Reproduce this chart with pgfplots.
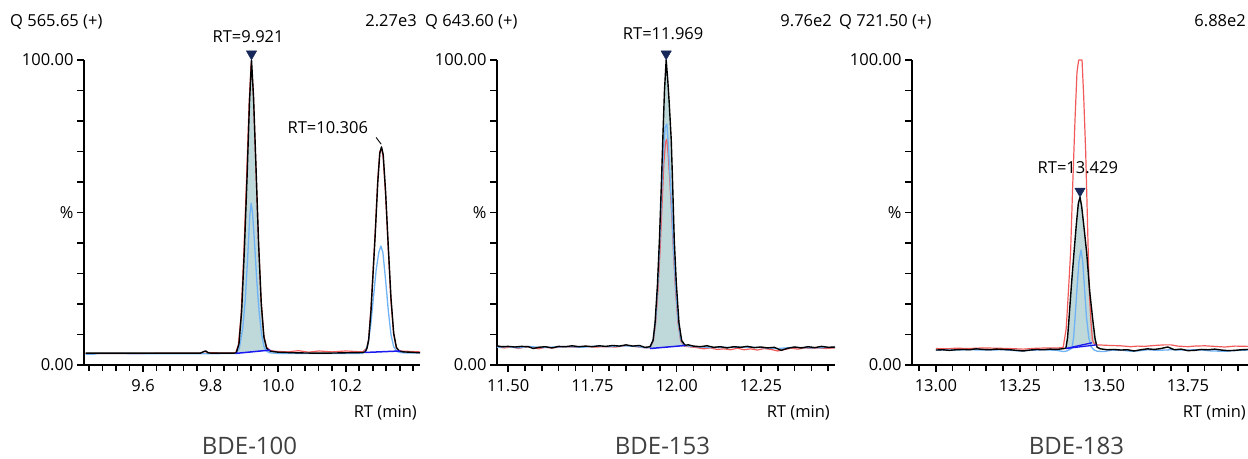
\documentclass[border=0pt]{standalone}
\usepackage{fontspec}
\setmainfont{Open Sans}
\usepackage{pgfplots}
\pgfplotsset{compat=1.18}
\definecolor{fillc}{HTML}{BFD8D9}
\definecolor{redc}{HTML}{F25A5A}
\definecolor{ltblue}{HTML}{6FB2F5}
\definecolor{basec}{HTML}{1A1AF0}
\definecolor{navy}{HTML}{16285A}
\definecolor{titlec}{HTML}{404040}
\newcommand{\fs}{\fontsize{16.5}{19}\selectfont}
\pgfplotsset{chrom/.style={
  scale only axis, height=305pt, clip=false, anchor=south west,
  axis lines=left, axis line style={line width=2.4pt, -},
  ymin=0, ymax=100, ytick={0,10,...,100},
  yticklabels={0.00,,,,,\%,,,,,100.00},
  tick align=outside, major tick length=7pt, minor tick length=6pt,
  tick style={black, line width=1.6pt},
  font=\fs, tick label style={font=\fs},
  xticklabel style={yshift=-4pt},
  /pgf/number format/assume math mode=true,
  every axis plot/.append style={line join=round},
}}
\begin{document}
\begin{tikzpicture}
\path[use as bounding box] (0,0) rectangle (1248pt,458pt);

% ---------------- BDE-100
\begin{axis}[chrom, at={(84pt,93pt)}, width=336pt,
  xmin=9.425, xmax=10.42,
  xtick={9.6,9.8,10.0,10.2}, xticklabels={9.6,9.8,10.0,10.2},
  minor xtick={9.44,9.48,...,10.41}]
\addplot[fill=fillc, draw=none] coordinates {
 (9.876,4.0)(9.884,7)(9.892,18)(9.900,38)(9.908,62)(9.915,86)(9.921,100)(9.927,88)
 (9.934,66)(9.942,40)(9.950,20)(9.958,9)(9.966,5.5)(9.975,4.6)(9.977,4.9)};
\addplot[redc, line width=1.2pt] coordinates {
 (9.430,3.8)(9.60,3.8)(9.77,3.9)(9.782,4.5)(9.79,4.1)(9.84,3.9)(9.874,4.0)(9.882,6.5)
 (9.890,16)(9.898,36)(9.906,60)(9.914,86)(9.920,99)(9.926,90)(9.933,68)(9.941,42)
 (9.949,22)(9.957,10)(9.965,6)(9.975,4.8)(9.99,4.5)(10.03,4.3)(10.06,4.7)(10.09,4.2)
 (10.12,4.6)(10.16,4.3)(10.20,4.6)(10.25,4.3)(10.262,5.5)(10.268,8.5)(10.275,19)
 (10.281,31)(10.287,43)(10.295,61)(10.301,70)(10.306,71)(10.311,68)(10.318,56)
 (10.326,38)(10.334,21)(10.342,10)(10.350,5.6)(10.36,4.6)(10.38,4.5)(10.42,4.3)};
\addplot[ltblue, line width=1.3pt] coordinates {
 (9.43,3.5)(9.45,3.5)(9.47,3.8)(9.60,3.7)(9.80,3.7)(9.875,3.8)(9.885,5.5)(9.895,12)
 (9.903,22)(9.910,36)(9.916,49)(9.920,53)(9.924,50)(9.930,40)(9.937,27)(9.944,17)
 (9.951,10)(9.958,6)(9.966,4.5)(9.975,4.0)(10.0,3.8)(10.25,3.8)(10.258,4.5)(10.266,7)
 (10.274,13)(10.282,22)(10.290,31)(10.298,37)(10.304,39)(10.310,37)(10.318,28)
 (10.326,18)(10.334,10)(10.342,6)(10.352,4.4)(10.365,4.0)(10.42,3.9)};
\addplot[black, line width=1.4pt] coordinates {
 (9.430,3.9)(9.50,3.9)(9.60,3.9)(9.70,3.9)(9.77,3.9)(9.780,4.4)(9.786,4.6)(9.792,4.0)
 (9.80,3.9)(9.84,3.9)(9.870,3.9)(9.876,4.0)(9.884,7)(9.892,18)(9.900,38)(9.908,62)
 (9.915,86)(9.921,100)(9.927,88)(9.934,66)(9.942,40)(9.950,20)(9.958,9)(9.966,5.5)
 (9.975,4.6)(9.985,4.4)(10.00,4.2)(10.05,4.0)(10.10,3.9)(10.15,3.9)(10.20,4.0)
 (10.25,4.1)(10.258,4.3)(10.263,5.5)(10.268,8.2)(10.275,18)(10.281,30)(10.287,42)
 (10.295,60)(10.301,69.5)(10.306,71.5)(10.311,69)(10.318,57)(10.326,39)(10.334,22)
 (10.342,10.5)(10.350,5.8)(10.358,4.6)(10.37,4.3)(10.39,4.2)(10.42,4.0)};
\addplot[basec, line width=1.5pt] coordinates {(9.874,3.8)(9.977,4.9)};
\addplot[basec, line width=1.5pt] coordinates {(10.256,4.1)(10.362,4.6)};
\addplot[only marks, mark=triangle*, mark size=6pt,
  mark options={rotate=180, fill=navy, draw=navy}] coordinates {(9.921,102)};
\node[anchor=base] at (axis cs:9.911,105.6) {RT=9.921};
\node[anchor=base] at (axis cs:10.147,76) {RT=10.306};
\draw[black, line width=0.9pt] (axis cs:10.290,74.6) -- (axis cs:10.305,72.4);
\end{axis}

% ---------------- BDE-153
\begin{axis}[chrom, at={(497pt,93pt)}, width=338pt,
  xmin=11.467, xmax=12.470,
  xtick={11.5,11.75,12.0,12.25}, xticklabels={11.50,11.75,12.00,12.25},
  minor xtick={11.50,11.55,...,12.46}]
\addplot[fill=fillc, draw=none] coordinates {
 (11.921,5.4)(11.921,6.0)(11.930,8)(11.936,13.8)(11.943,26)(11.949,41)(11.955,60)
 (11.959,74)(11.964,90)(11.969,100)(11.974,93)(11.978,86)(11.984,74)(11.988,60)
 (11.993,41)(11.999,27)(12.007,13.8)(12.015,8)(12.025,6.5)(12.026,6.4)};
\addplot[redc, line width=1.2pt] coordinates {
 (11.467,5.9)(11.49,5.6)(11.51,6.0)(11.53,5.4)(11.55,5.9)(11.57,6.0)(11.59,5.3)
 (11.61,5.8)(11.63,5.6)(11.65,5.8)(11.67,6.0)(11.70,5.8)(11.73,6.1)(11.76,5.9)
 (11.79,6.0)(11.82,5.9)(11.85,6.4)(11.88,6.0)(11.91,5.6)(11.922,5.7)(11.931,8)
 (11.938,14)(11.945,25)(11.951,38)(11.957,53)(11.962,66)(11.967,73)(11.971,74)
 (11.975,69)(11.980,60)(11.986,48)(11.991,36)(11.997,24)(12.004,14)(12.012,8)
 (12.022,6.2)(12.035,6.0)(12.06,5.7)(12.08,5.3)(12.10,5.6)(12.12,5.1)(12.14,5.3)
 (12.16,5.0)(12.18,5.5)(12.20,5.0)(12.22,5.3)(12.24,4.9)(12.26,5.4)(12.28,5.1)
 (12.30,4.6)(12.32,5.1)(12.34,5.5)(12.36,5.2)(12.38,5.6)(12.40,5.4)(12.42,5.6)
 (12.44,5.4)(12.47,5.6)};
\addplot[ltblue, line width=1.3pt] coordinates {
 (11.467,5.8)(11.50,6.0)(11.53,5.6)(11.56,6.1)(11.60,5.7)(11.64,5.9)(11.68,6.0)
 (11.72,5.8)(11.76,6.2)(11.80,6.0)(11.84,6.3)(11.88,6.1)(11.91,5.6)(11.922,5.8)
 (11.931,8.5)(11.938,15)(11.945,28)(11.951,43)(11.957,60)(11.962,72)(11.966,78)
 (11.971,79)(11.975,73)(11.980,63)(11.986,50)(11.991,38)(11.997,26)(12.004,15)
 (12.012,8.5)(12.022,6.4)(12.035,6.2)(12.07,5.9)(12.11,5.7)(12.15,5.8)(12.20,5.9)
 (12.25,5.7)(12.30,5.4)(12.35,5.8)(12.40,5.6)(12.47,5.8)};
\addplot[black, line width=1.4pt] coordinates {
 (11.467,6.3)(11.48,6.0)(11.50,6.1)(11.52,5.9)(11.54,6.1)(11.56,6.0)(11.575,5.4)
 (11.59,5.8)(11.61,6.0)(11.63,5.6)(11.65,6.1)(11.67,6.0)(11.69,6.3)(11.71,6.0)
 (11.73,6.2)(11.75,6.0)(11.77,6.3)(11.79,6.1)(11.81,6.4)(11.83,6.2)(11.85,6.6)
 (11.87,6.2)(11.89,6.4)(11.905,5.8)(11.915,5.9)(11.921,6.0)(11.930,8)(11.936,13.8)
 (11.943,26)(11.949,41)(11.955,60)(11.959,74)(11.964,90)(11.969,100)(11.974,93)
 (11.978,86)(11.984,74)(11.988,60)(11.993,41)(11.999,27)(12.007,13.8)(12.015,8)
 (12.025,6.5)(12.035,6.6)(12.05,6.2)(12.07,6.0)(12.09,6.3)(12.11,5.8)(12.13,6.0)
 (12.15,5.6)(12.17,6.0)(12.19,5.8)(12.21,6.1)(12.23,5.7)(12.25,5.9)(12.27,5.6)
 (12.29,5.8)(12.31,4.8)(12.33,5.5)(12.35,5.9)(12.37,5.6)(12.39,6.0)(12.41,5.7)
 (12.43,6.1)(12.45,5.8)(12.47,5.9)};
\addplot[basec, line width=1.5pt] coordinates {(11.921,5.4)(12.026,6.4)};
\addplot[only marks, mark=triangle*, mark size=6pt,
  mark options={rotate=180, fill=navy, draw=navy}] coordinates {(11.969,102)};
\node[anchor=base] at (axis cs:11.960,106.6) {RT=11.969};
\end{axis}

% ---------------- BDE-183
\begin{axis}[chrom, at={(912pt,93pt)}, width=336pt,
  xmin=12.929, xmax=13.929,
  xtick={13.0,13.25,13.5,13.75}, xticklabels={13.00,13.25,13.50,13.75},
  minor xtick={12.95,13.00,...,13.91}]
\addplot[fill=fillc, draw=none] coordinates {
 (13.387,5.4)(13.392,9)(13.396,14.8)(13.404,27)(13.411,36.7)(13.418,46)(13.424,53)
 (13.429,55)(13.434,52)(13.441,45)(13.449,36.7)(13.458,24)(13.467,14.8)(13.474,8.5)
 (13.478,6.9)};
\addplot[redc, line width=1.2pt] coordinates {
 (13.00,5.4)(13.03,5.3)(13.06,5.5)(13.10,5.4)(13.14,5.6)(13.18,5.5)(13.22,5.4)
 (13.26,5.2)(13.30,5.5)(13.34,5.6)(13.365,5.6)(13.379,5.8)(13.388,12)(13.395,25)
 (13.401,37)(13.407,58)(13.414,80)(13.420,96)(13.425,100)(13.435,100)(13.440,88)
 (13.446,69.5)(13.451,48)(13.456,26)(13.461,15)(13.466,8.2)(13.472,6.8)(13.48,6.6)
 (13.50,6.5)(13.52,6.4)(13.55,6.3)(13.58,6.0)(13.60,6.2)(13.62,6.1)(13.65,6.4)
 (13.68,6.6)(13.70,6.6)(13.72,6.2)(13.75,6.0)(13.77,6.2)(13.80,6.3)(13.83,6.1)
 (13.86,5.9)(13.89,6.2)(13.929,6.1)};
\addplot[ltblue, line width=1.3pt] coordinates {
 (13.00,4.9)(13.05,4.9)(13.10,5.0)(13.15,4.9)(13.20,5.0)(13.25,4.6)(13.28,4.8)
 (13.32,5.0)(13.36,4.8)(13.38,4.4)(13.390,4.6)(13.405,5.5)(13.410,9)(13.414,15)
 (13.420,25)(13.426,34)(13.432,37.7)(13.437,34)(13.442,26)(13.448,16)(13.455,9)
 (13.462,6)(13.470,5.0)(13.48,4.5)(13.50,4.4)(13.52,4.8)(13.55,4.9)(13.58,4.5)
 (13.60,4.6)(13.63,5.0)(13.66,4.8)(13.70,5.0)(13.74,4.9)(13.78,5.0)(13.82,4.6)
 (13.86,4.5)(13.90,4.8)(13.929,4.9)};
\addplot[black, line width=1.4pt] coordinates {
 (13.00,4.9)(13.02,5.0)(13.04,4.8)(13.06,5.0)(13.08,5.1)(13.10,5.0)(13.12,5.3)
 (13.14,5.1)(13.16,5.0)(13.18,5.2)(13.20,5.1)(13.22,5.0)(13.24,4.8)(13.26,4.6)
 (13.28,4.9)(13.30,5.1)(13.32,5.0)(13.34,5.2)(13.36,5.1)(13.375,5.3)(13.387,5.5)
 (13.392,9)(13.396,14.8)(13.404,27)(13.411,36.7)(13.418,46)(13.424,53)(13.429,55)
 (13.434,52)(13.441,45)(13.449,36.7)(13.458,24)(13.467,14.8)(13.474,8.5)(13.480,5.8)
 (13.49,5.3)(13.51,5.0)(13.53,5.1)(13.55,4.9)(13.57,5.0)(13.59,4.6)(13.61,5.0)
 (13.63,5.3)(13.65,5.1)(13.67,5.4)(13.69,5.9)(13.71,5.0)(13.73,5.2)(13.75,4.7)
 (13.77,4.8)(13.79,5.1)(13.81,5.0)(13.83,5.2)(13.85,4.9)(13.87,4.7)(13.89,4.8)
 (13.91,5.0)(13.929,5.1)};
\addplot[basec, line width=1.3pt] coordinates {(13.387,5.4)(13.465,7.3)};
\addplot[basec, line width=1.3pt] coordinates {(13.387,5.4)(13.478,6.6)};
\addplot[only marks, mark=triangle*, mark size=6pt,
  mark options={rotate=180, fill=navy, draw=navy}] coordinates {(13.429,57)};
\node[anchor=base] at (axis cs:13.4226,62.8) {RT=13.429};
\end{axis}

% ---------------- texts around the panels
\begin{scope}[font=\fs]
\node[anchor=base west, inner sep=0pt] at (10pt,431pt) {Q 565.65 (+)};
\node[anchor=base east, inner sep=0pt] at (417pt,431pt) {2.27e3};
\node[anchor=base west, inner sep=0pt] at (425pt,431pt) {Q 643.60 (+)};
\node[anchor=base east, inner sep=0pt] at (832pt,431pt) {9.76e2};
\node[anchor=base west, inner sep=0pt] at (839pt,431pt) {Q 721.50 (+)};
\node[anchor=base east, inner sep=0pt] at (1246pt,431pt) {6.88e2};
\node[anchor=base east, inner sep=0pt] at (417pt,41pt) {RT (min)};
\node[anchor=base east, inner sep=0pt] at (830pt,41pt) {RT (min)};
\node[anchor=base east, inner sep=0pt] at (1246pt,41pt) {RT (min)};
\end{scope}
\begin{scope}[font=\fontsize{24}{28}\selectfont, text=titlec]
\node[anchor=base, inner sep=0pt] at (249.5pt,4pt) {BDE-100};
\node[anchor=base, inner sep=0pt] at (662.5pt,4pt) {BDE-153};
\node[anchor=base, inner sep=0pt] at (1076.5pt,4pt) {BDE-183};
\end{scope}
\end{tikzpicture}
\end{document}
